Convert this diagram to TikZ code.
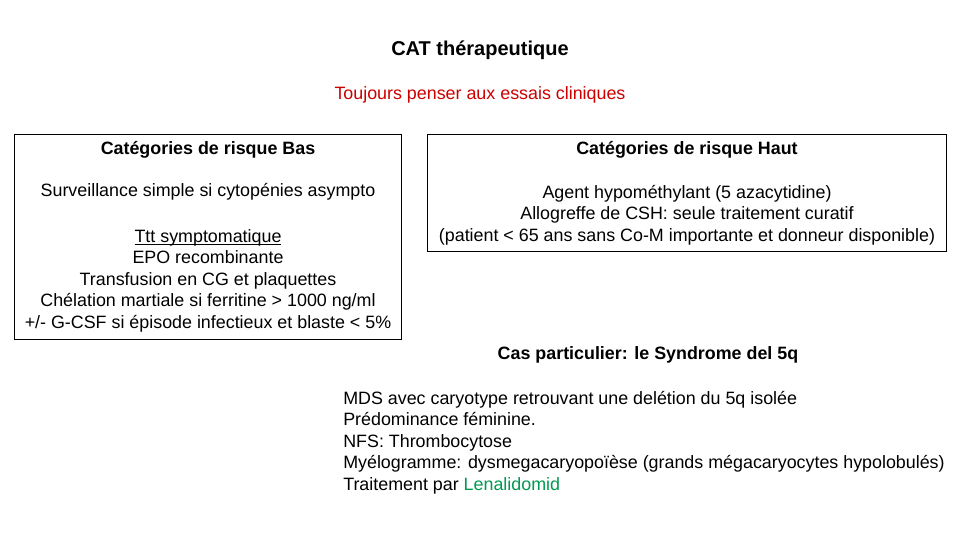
\documentclass[tikz,border=0pt]{standalone}
\usepackage{fontspec}
\setmainfont{Liberation Sans}
\definecolor{myred}{RGB}{204,0,0}
\definecolor{mygreen}{RGB}{0,153,80}
\newcommand{\myul}[1]{\underline{\smash{#1}}\strut}
\begin{document}
\begin{tikzpicture}[x=0.75pt,y=-0.75pt,
  txt/.style={font=\fontsize{13.4}{16.1}\selectfont,inner sep=0pt,align=center},
  hdr/.style={txt,font=\fontsize{13.4}{16.1}\selectfont\bfseries},
  boxst/.style={draw=black,line width=0.6pt}]
\useasboundingbox (0,0) rectangle (960,540);
\node[txt,font=\fontsize{15}{18}\selectfont\bfseries] (title) at (480,50) {CAT thérapeutique};
\node[txt,text=myred] (sub) at (480,95) {Toujours penser aux essais cliniques};
\draw[boxst] (14,134) rectangle (401,339);
\draw[boxst] (427,134) rectangle (946,251);
\node[hdr] (lh) at (208,150) {Catégories de risque Bas};
\node[txt] (l1) at (208,192) {Surveillance simple si cytopénies asympto};
\node[txt,anchor=north] (l2) at (208,227) {\myul{Ttt symptomatique}\\EPO recombinante\\Transfusion en CG et plaquettes\\Chélation martiale si ferritine > 1000 ng/ml\\+/- G-CSF si épisode infectieux et blaste < 5\%};
\node[hdr] (rh) at (687,150) {Catégories de risque Haut};
\node[txt,anchor=north] (r1) at (687,185) {Agent hypométhylant (5 azacytidine)\\Allogreffe de CSH: seule traitement curatif\\(patient < 65 ans sans Co-M importante et donneur disponible)};
\node[hdr] (cp) at (648,355) {Cas particulier: le Syndrome del 5q};
\node[txt,align=left,anchor=north west] (m) at (343,391) {MDS avec caryotype retrouvant une delétion du 5q isolée\\Prédominance féminine.\\NFS: Thrombocytose\\Myélogramme: dysmegacaryopoïèse (grands mégacaryocytes hypolobulés)\\Traitement par \textcolor{mygreen}{Lenalidomid}};
\end{tikzpicture}
\end{document}
